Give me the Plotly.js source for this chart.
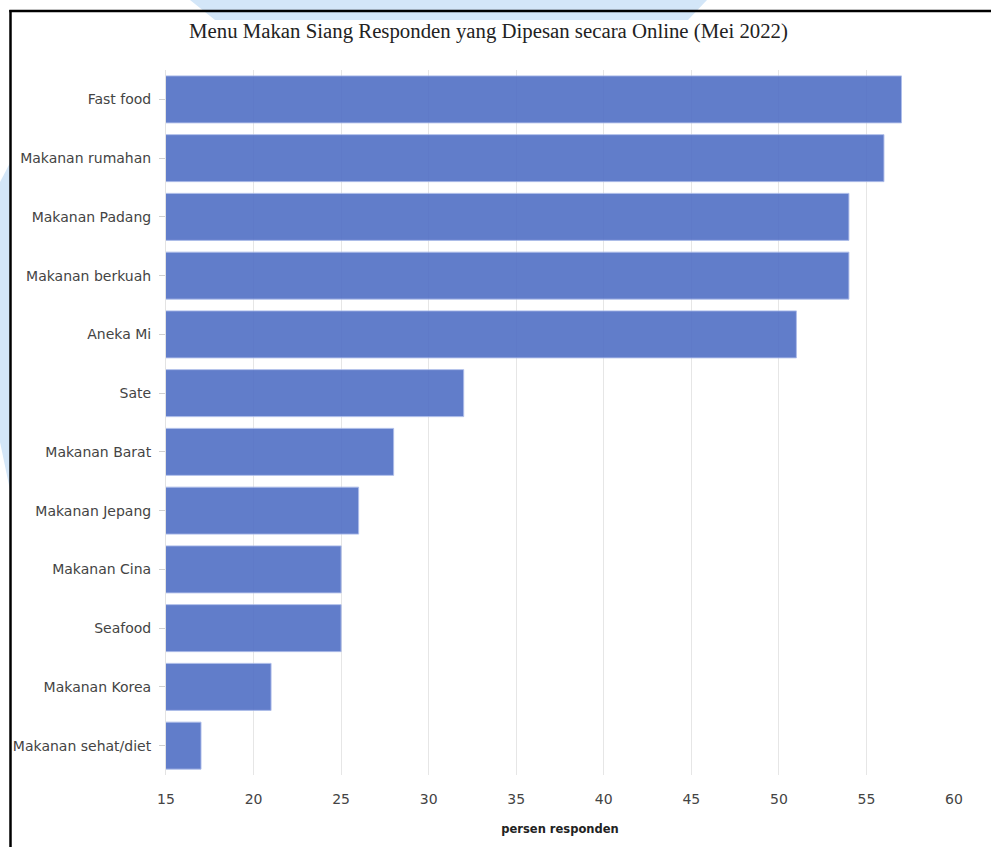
<!DOCTYPE html>
<html>
<head>
<meta charset="utf-8">
<script src="https://cdn.plot.ly/plotly-3.0.1.min.js"></script>
<style>
html,body{margin:0;padding:0;background:#fff;}
#chart{width:991px;height:847px;}
</style>
</head>
<body>
<div id="chart"></div>
<script>
var categories = ["Fast food","Makanan rumahan","Makanan Padang","Makanan berkuah","Aneka Mi","Sate","Makanan Barat","Makanan Jepang","Makanan Cina","Seafood","Makanan Korea","Makanan sehat/diet"];
var values = [57, 56, 54, 54, 51, 32, 28, 26, 25, 25, 21, 17];
var xTicks = [15, 20, 25, 30, 35, 40, 45, 50, 55, 60];

var W = 991, H = 847;
var M = {l: 166, r: 37, t: 70, b: 72};
var pw = W - M.l - M.r, ph = H - M.t - M.b;
function px(X){ return (X - M.l) / pw; }
function py(Y){ return 1 - (Y - M.t) / ph; }
function poly(pts){
  return pts.map(function(p, i){ return (i ? 'L' : 'M') + px(p[0]) + ',' + py(p[1]); }).join(' ') + ' Z';
}

var trace = {
  type: 'bar',
  orientation: 'h',
  y: categories,
  x: values,
  opacity: 0.9,
  marker: {color: 'rgb(81,111,197)', line: {color: 'rgba(165,182,232,0.9)', width: 1}},
  hoverinfo: 'x+y'
};

var layout = {
  width: W, height: H,
  margin: M,
  paper_bgcolor: '#ffffff',
  plot_bgcolor: 'rgba(0,0,0,0)',
  showlegend: false,
  bargap: 0.2,
  title: {
    text: 'Menu Makan Siang Responden yang Dipesan secara Online (Mei 2022)',
    font: {family: 'Liberation Serif, Times New Roman, serif', size: 20.8, color: '#222'},
    xref: 'container', x: 488.5 / W, xanchor: 'center',
    yref: 'container', y: 1 - 31 / H, yanchor: 'middle'
  },
  xaxis: {
    range: [15, 60],
    tickvals: xTicks,
    ticktext: xTicks.map(String),
    showgrid: true, gridcolor: '#e6e6e6', gridwidth: 1,
    zeroline: false, showline: false,
    ticks: 'outside', ticklen: 11, tickcolor: 'rgba(0,0,0,0)',
    tickfont: {family: 'DejaVu Sans, Verdana, sans-serif', size: 14, color: '#444'},
    title: {text: 'persen responden', standoff: 19,
      font: {family: 'DejaVu Sans, Verdana, sans-serif', size: 11.5, color: '#222', weight: 'bold'}},
    fixedrange: true
  },
  yaxis: {
    autorange: 'reversed',
    showgrid: false, zeroline: false,
    showline: true, linecolor: '#e3e3e3', linewidth: 1,
    ticks: 'outside', ticklen: 6, tickcolor: '#d0d0d0',
    ticklabelstandoff: 5,
    tickfont: {family: 'DejaVu Sans, Verdana, sans-serif', size: 14, color: '#444'},
    fixedrange: true
  },
  shapes: [
    {type: 'path', xref: 'paper', yref: 'paper', layer: 'below',
     path: poly([[190,0],[707,0],[688,20],[215,20]]),
     fillcolor: '#d3e6f8', line: {width: 0}},
    {type: 'path', xref: 'paper', yref: 'paper', layer: 'below',
     path: poly([[0,182],[10,163],[10,490],[0,442]]),
     fillcolor: '#d3e6f8', line: {width: 0}},
    {type: 'line', xref: 'paper', yref: 'paper',
     x0: px(10.5), x1: px(10.5), y0: py(10), y1: py(860),
     line: {color: '#000', width: 2.5}},
    {type: 'line', xref: 'paper', yref: 'paper',
     x0: px(9.3), x1: px(1000), y0: py(11), y1: py(11),
     line: {color: '#000', width: 2.5}}
  ]
};

Plotly.newPlot('chart', [trace], layout, {displayModeBar: false, staticPlot: true});
</script>
</body>
</html>
